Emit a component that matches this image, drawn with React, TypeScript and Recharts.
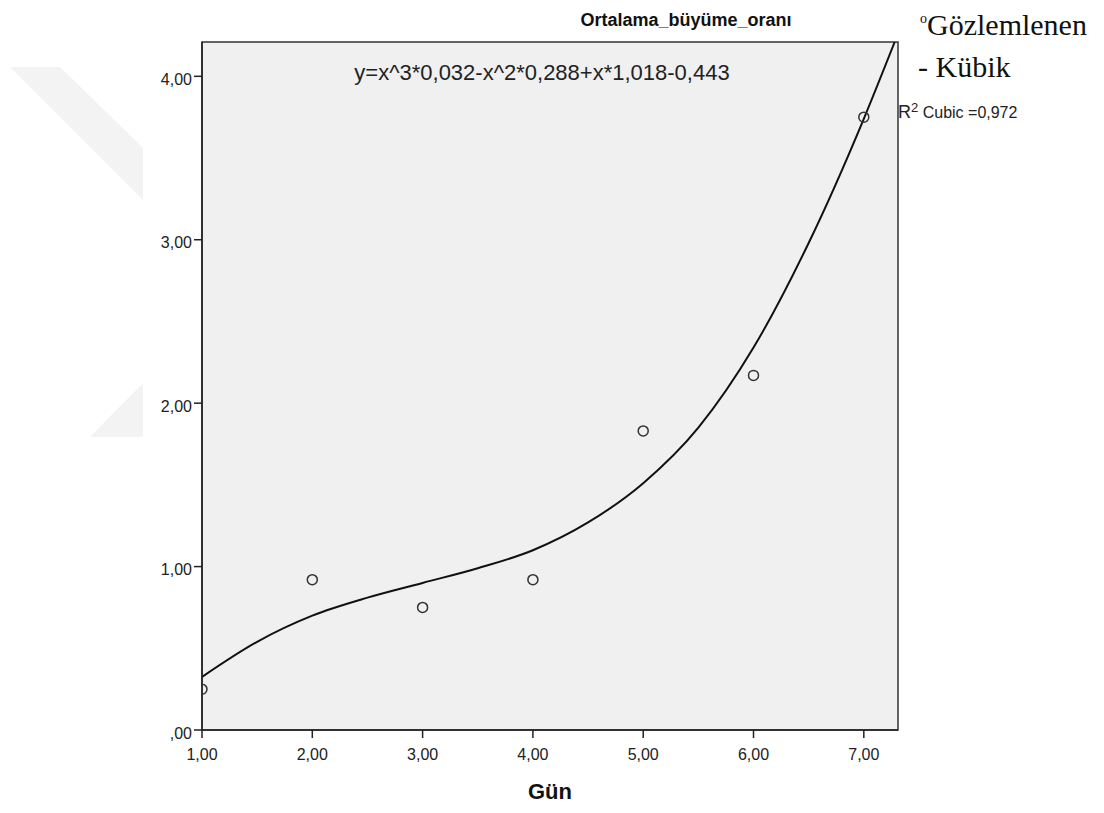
import {
  ComposedChart,
  Line,
  Scatter,
  XAxis,
  YAxis,
  CartesianGrid,
  ReferenceArea,
} from "recharts";

// observed values (Gün -> Ortalama_büyüme_oranı)
const days = [1, 2, 3, 4, 5, 6, 7];
const observed = [0.25, 0.92, 0.75, 0.92, 1.83, 2.17, 3.75];

// cubic fit line
const fitX = [1, 1.5, 2, 2.5, 3, 3.5, 4, 4.5, 5, 5.5, 6, 6.5, 7, 7.28];
const fitY = [0.325, 0.54, 0.7, 0.81, 0.9, 0.99, 1.1, 1.27, 1.51, 1.85, 2.34, 2.98, 3.74, 4.21];

const xTicks = [1, 2, 3, 4, 5, 6, 7];
const yTicks = [0, 1, 2, 3, 4];
const xMax = 7.31;
const yMax = 4.21;

const points = days.map((d, i) => ({ x: d, y: observed[i] }));
const fit = fitX.map((x, i) => ({ x, y: fitY[i] }));

const fmt = (v: number) => {
  const s = v.toFixed(2).replace(".", ",");
  return s.startsWith("0,") ? s.slice(1) : s;
};

const font = "Arial, 'Liberation Sans', sans-serif";
const serif = "'Times New Roman', 'Liberation Serif', serif";

export default function App() {
  return (
    <div style={{ position: "absolute", left: 0, top: 0, width: 1104, height: 813, background: "#fff" }}>
      {/* faint watermark in the background */}
      <svg width={160} height={450} style={{ position: "absolute", left: 0, top: 0 }}>
        <polygon points="10,67 60,67 143,148 143,200" fill="#f3f3f3" />
        <polygon points="90,437 143,383 143,437" fill="#f3f3f3" />
      </svg>

      <div
        style={{
          position: "absolute",
          left: 486,
          width: 400,
          top: 10,
          textAlign: "center",
          fontFamily: font,
          fontWeight: "bold",
          fontSize: 18,
          color: "#111",
        }}
      >
        Ortalama_büyüme_oranı
      </div>

      <ComposedChart
        width={1104}
        height={813}
        margin={{ top: 42, right: 206, bottom: 33, left: 142 }}
        style={{ fontFamily: font }}
      >
        <CartesianGrid horizontal={false} vertical={false} fill="#f0f0f0" />
        <ReferenceArea
          x1={1}
          x2={xMax}
          y1={0}
          y2={yMax}
          fill="none"
          stroke="#333"
          strokeWidth={1.5}
          fillOpacity={0}
        />
        <XAxis
          type="number"
          dataKey="x"
          domain={[1, xMax]}
          ticks={xTicks}
          allowDataOverflow
          tickFormatter={fmt}
          height={50}
          tickSize={8}
          tickMargin={11}
          stroke="#222"
          strokeWidth={1.5}
          tick={{ fill: "#222", fontSize: 16 }}
          label={{
            value: "Gün",
            position: "bottom",
            offset: 3,
            style: { fill: "#111", fontSize: 22, fontWeight: "bold" },
          }}
        />
        <YAxis
          type="number"
          dataKey="y"
          domain={[0, yMax]}
          ticks={yTicks}
          allowDataOverflow
          tickFormatter={fmt}
          width={60}
          tickSize={8}
          tickMargin={2}
          stroke="#222"
          strokeWidth={1.5}
          tick={{ fill: "#222", fontSize: 16, dy: 3 }}
        />
        <Line
          data={fit}
          dataKey="y"
          type="monotone"
          stroke="#111"
          strokeWidth={2}
          dot={false}
          activeDot={false}
          isAnimationActive={false}
        />
        <Scatter
          data={points}
          dataKey="y"
          fill="none"
          stroke="#333"
          strokeWidth={1.5}
          shape={(p: any) => (
            <circle cx={p.cx} cy={p.cy} r={5} fill="none" stroke="#333" strokeWidth={1.5} />
          )}
          isAnimationActive={false}
        />
      </ComposedChart>

      <div
        style={{
          position: "absolute",
          left: 242,
          width: 600,
          top: 60,
          textAlign: "center",
          fontFamily: font,
          fontSize: 22,
          color: "#222",
        }}
      >
        y=x^3*0,032-x^2*0,288+x*1,018-0,443
      </div>

      <div style={{ position: "absolute", left: 920, top: 8, fontFamily: serif, fontSize: 30, color: "#111", whiteSpace: "nowrap" }}>
        <span style={{ fontSize: 14, verticalAlign: "top", position: "relative", top: 3 }}>o</span>Gözlemlenen
      </div>
      <div style={{ position: "absolute", left: 918, top: 50, fontFamily: serif, fontSize: 30, color: "#111", whiteSpace: "nowrap" }}>
        - Kübik
      </div>
      <div style={{ position: "absolute", left: 898, top: 100, fontFamily: font, fontSize: 16, color: "#222", whiteSpace: "nowrap" }}>
        <span style={{ fontSize: 18 }}>R</span>
        <sup style={{ fontSize: 13 }}>2</sup> Cubic =0,972
      </div>
    </div>
  );
}
